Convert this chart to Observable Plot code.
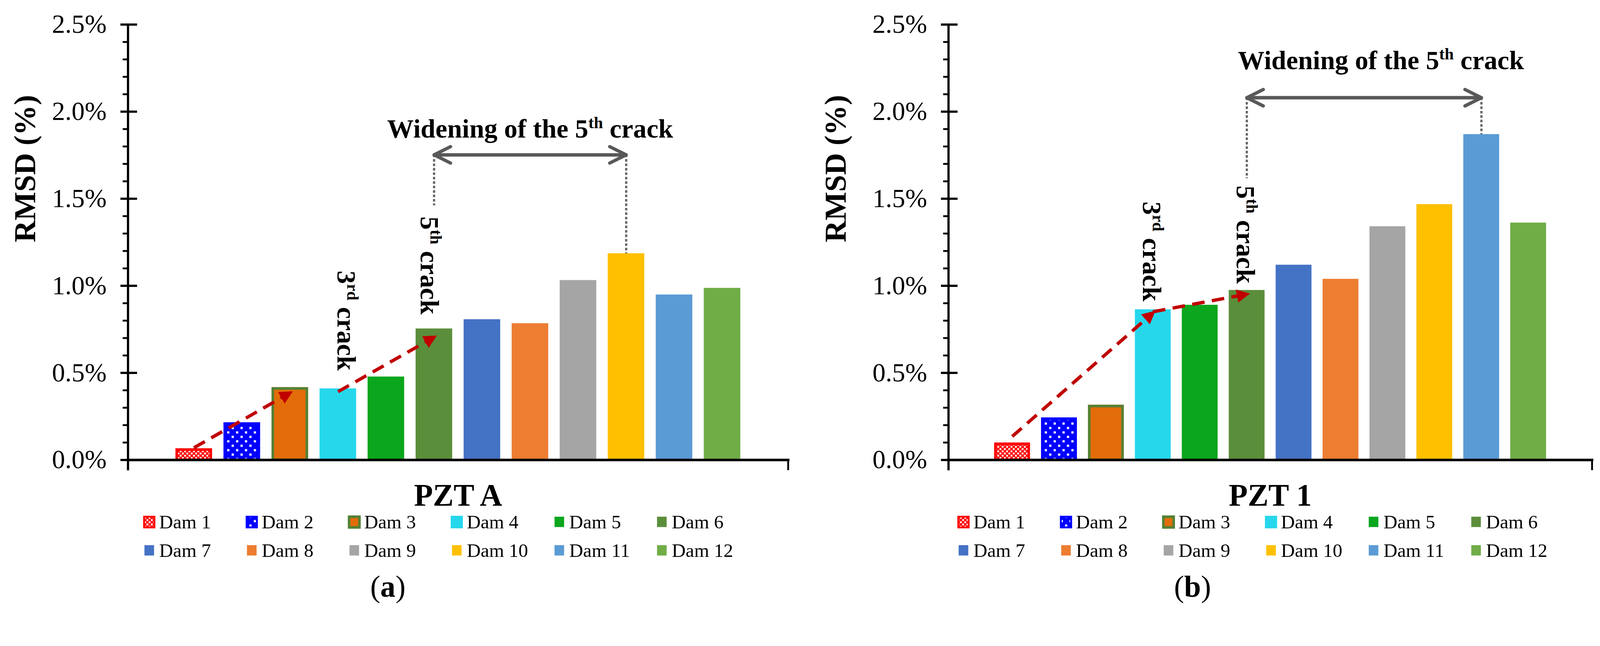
<!DOCTYPE html>
<html>
<head>
<meta charset="utf-8">
<script src="https://cdn.jsdelivr.net/npm/d3@7"></script>
<script src="https://cdn.jsdelivr.net/npm/@observablehq/plot@0.6"></script>
<style>
html, body { margin: 0; padding: 0; background: #fff; overflow: hidden; }
#page { position: relative; width: 4331px; height: 1653px; overflow: hidden; background: #fff; transform-origin: 0 0; }
#page > svg { position: absolute; top: 0; }
</style>
</head>
<body>
<div id="page"></div>
<script>
// ---------- data ----------
const dams = ["Dam 1","Dam 2","Dam 3","Dam 4","Dam 5","Dam 6","Dam 7","Dam 8","Dam 9","Dam 10","Dam 11","Dam 12"];
const rmsdPztA = [0.066, 0.215, 0.417, 0.410, 0.478, 0.754, 0.807, 0.784, 1.032, 1.186, 0.949, 0.987];
const rmsdPzt1 = [0.099, 0.243, 0.316, 0.864, 0.890, 0.975, 1.120, 1.039, 1.341, 1.468, 1.870, 1.362];
const damFills = ["url(#pat-dam1)", "url(#pat-dam2)", "#E36C0A", "#26D7EC", "#0BA61D", "#5B8E3A",
                  "#4472C4", "#ED7D31", "#A5A5A5", "#FFC000", "#5B9BD5", "#70AD47"];
const damBorders = ["#FF0000", "#0000FF", "#548235", null, null, null, null, null, null, null, null, null];
const yMajorTicks = [0, 0.5, 1.0, 1.5, 2.0, 2.5];
const yMinorTicks = [0.1,0.2,0.3,0.4,0.6,0.7,0.8,0.9,1.1,1.2,1.3,1.4,1.6,1.7,1.8,1.9,2.1,2.2,2.3,2.4];

// annotations (data coordinates: dam category, RMSD value in %)
const crackArrowsA = [
  {x1: "Dam 1", y1: 0.07, x2: "Dam 3", y2: 0.385},
  {x1: "Dam 4", y1: 0.392, x2: "Dam 6", y2: 0.705}
];
const crackArrows1 = [
  {x1: "Dam 1", y1: 0.135, x2: "Dam 4", y2: 0.845},
  {x1: "Dam 4", y1: 0.851, x2: "Dam 6", y2: 0.952}
];
const widenArrowA = [{from: "Dam 6", to: "Dam 10", y: 1.752}];
const widenArrow1 = [{from: "Dam 6", to: "Dam 11", y: 2.080}];
const dropLinesA = [{dam: "Dam 6", y1: 1.752, y2: 1.461}, {dam: "Dam 10", y1: 1.752, y2: 1.186}];
const dropLines1 = [{dam: "Dam 6", y1: 2.080, y2: 1.617}, {dam: "Dam 11", y1: 2.080, y2: 1.870}];
const widenLabelA = [{dam: "Dam 8", v: 1.851, text: "Widening of the 5th crack"}];
const widenLabel1 = [{dam: "Dam 9", v: 2.244, text: "Widening of the 5th crack"}];
const crack3A = [{dam: "Dam 4", v: 0.80, text: "3rd crack"}];
const crack5A = [{dam: "Dam 6", v: 1.117, text: "5th crack"}];
const crack31 = [{dam: "Dam 4", v: 1.197, text: "3rd crack"}];
const crack51 = [{dam: "Dam 6", v: 1.294, text: "5th crack"}];

const FONT = '"Liberation Serif", "Times New Roman", Times, serif';
const NS = "http://www.w3.org/2000/svg";
const page = document.getElementById("page");

// fit the 4331x1653 design into the actual viewport
function fit() {
  const s = Math.min(window.innerWidth / 4331, window.innerHeight / 1653);
  page.style.transform = s > 0 && Math.abs(s - 1) > 0.002 ? `scale(${s})` : "none";
}
fit();
window.addEventListener("resize", fit);

// ---------- patterns & overlay (legend, captions) ----------
const ov = d3.select(page).append("svg")
  .attr("width", 4331).attr("height", 1653)
  .style("left", "0px").style("font-family", FONT);
const defs = ov.append("defs");
const p1 = defs.append("pattern").attr("id", "pat-dam1").attr("patternUnits", "userSpaceOnUse")
  .attr("width", 12).attr("height", 12);
p1.append("rect").attr("width", 12).attr("height", 12).attr("fill", "#FF0000");
p1.append("rect").attr("x", 0.5).attr("y", 0.5).attr("width", 5).attr("height", 5).attr("fill", "#FFFFFF");
p1.append("rect").attr("x", 6.5).attr("y", 6.5).attr("width", 5).attr("height", 5).attr("fill", "#FFFFFF");
const p2 = defs.append("pattern").attr("id", "pat-dam2").attr("patternUnits", "userSpaceOnUse")
  .attr("width", 24).attr("height", 24);
p2.append("rect").attr("width", 24).attr("height", 24).attr("fill", "#0000FF");
p2.append("rect").attr("x", 3).attr("y", 3).attr("width", 6).attr("height", 6).attr("fill", "#FFFFFF");
p2.append("rect").attr("x", 15).attr("y", 15).attr("width", 6).attr("height", 6).attr("fill", "#FFFFFF");

const legendBorder = ["#FF0000", "#0000FF", "#548235", "#26D7EC", null, null, null, null, null, null, null, null];
function legend(x0, pitch) {
  dams.forEach((d, i) => {
    const col = i % 6, row = Math.floor(i / 6);
    const x = x0 + col * pitch;
    const cy = 1412 + row * 77;
    const g = ov.append("g");
    if (legendBorder[i]) {
      g.append("rect").attr("x", x + 2).attr("y", cy - 14).attr("width", 28).attr("height", 29)
        .attr("fill", damFills[i]).attr("stroke", legendBorder[i]).attr("stroke-width", i === 2 ? 7 : 5);
    } else {
      g.append("rect").attr("x", x + 3).attr("y", cy - 14).attr("width", 26).attr("height", 28)
        .attr("fill", damFills[i]);
    }
    g.append("text").attr("x", x + 43).attr("y", 1430 + row * 77)
      .attr("font-size", 52).attr("fill", "#000").text(d);
  });
}
legend(388, 277.5);
legend(2592, 277.5);

function caption(cx, letter) {
  const t = ov.append("text").attr("x", cx).attr("y", 1615).attr("text-anchor", "middle")
    .attr("font-size", 82).attr("fill", "#000");
  t.append("tspan").text("(");
  t.append("tspan").attr("font-weight", "bold").text(letter);
  t.append("tspan").text(")");
}
caption(1050, "a");
caption(3228, "b");

// ---------- helpers ----------
function triangleMarker(color, context) {
  const doc = (context && context.document) || document;
  const m = doc.createElementNS(NS, "marker");
  m.setAttribute("viewBox", "-40 -22 52 44");
  m.setAttribute("markerWidth", 52);
  m.setAttribute("markerHeight", 44);
  m.setAttribute("markerUnits", "userSpaceOnUse");
  m.setAttribute("refX", 0);
  m.setAttribute("refY", 0);
  m.setAttribute("orient", "auto");
  m.setAttribute("overflow", "visible");
  const p = doc.createElementNS(NS, "path");
  p.setAttribute("d", "M9,0L-27,-18L-27,18Z");
  p.setAttribute("fill", color);
  p.setAttribute("stroke", "none");
  m.appendChild(p);
  return m;
}
function redLink(data) {
  const opts = {x1: "x1", y1: "y1", x2: "x2", y2: "y2", stroke: "#C00000", strokeWidth: 9, strokeDasharray: "34,20"};
  try { return Plot.link(data, {...opts, markerEnd: triangleMarker}); }
  catch (e) { return Plot.link(data, {...opts, markerEnd: "arrow"}); }
}
function superscripts(svg) {
  svg.querySelectorAll("text").forEach(t => {
    if (t.children.length) return;
    const s = t.textContent;
    const m = s.match(/^(.*?\d)(st|nd|rd|th)(.*)$/);
    if (!m) return;
    const fs = parseFloat(t.getAttribute("font-size") || t.parentNode.getAttribute("font-size") || 72);
    t.textContent = "";
    const a = document.createElementNS(NS, "tspan"); a.textContent = m[1];
    const b = document.createElementNS(NS, "tspan"); b.textContent = m[2];
    b.setAttribute("font-size", (fs * 0.62).toFixed(1));
    b.setAttribute("dy", (-fs * 0.36).toFixed(1));
    const c = document.createElementNS(NS, "tspan"); c.textContent = m[3];
    c.setAttribute("dy", (fs * 0.36).toFixed(1));
    t.append(a, b, c);
  });
}

// ---------- panels ----------
function panel(cfg) {
  const data = dams.map((d, i) => ({dam: d, value: cfg.values[i], fill: damFills[i], border: damBorders[i]}));
  const plotH = 1244 - 66;
  const svg = Plot.plot({
    width: cfg.width,
    height: 1653,
    marginLeft: cfg.ml,
    marginRight: cfg.mr,
    marginTop: 66,
    marginBottom: 1653 - 1244,
    style: {fontFamily: FONT, background: "transparent", color: "#000", overflow: "visible"},
    x: {type: "band", domain: dams, paddingInner: cfg.pi, paddingOuter: cfg.po, axis: null},
    y: {domain: [0, 2.5]},
    color: {type: "identity"},
    marks: [
      Plot.barY(data, {x: "dam", y: "value", fill: "fill"}),
      Plot.barY(data.filter(d => d.border), {x: "dam", y: "value", fill: "fill", stroke: "border",
        strokeWidth: 7, insetLeft: 3.5, insetRight: 3.5, insetTop: 3.5}),
      Plot.ruleX(cfg.drops, {x: "dam", y1: "y1", y2: "y2", stroke: "#676767", strokeWidth: 6, strokeDasharray: "7,5"}),
      Plot.arrow(cfg.widen, {x1: "from", x2: "to", y1: "y", y2: "y", stroke: "#595959", strokeWidth: 9, headAngle: 53, headLength: 8.3}),
      Plot.arrow(cfg.widen, {x1: "to", x2: "from", y1: "y", y2: "y", stroke: "#595959", strokeWidth: 9, headAngle: 53, headLength: 8.3}),
      redLink(cfg.arrows),
      Plot.text(cfg.widenLabel, {x: "dam", y: "v", text: "text", dx: cfg.widenDx, fontSize: 72, fontWeight: "bold", lineAnchor: "bottom", fill: "#000"}),
      Plot.text(cfg.crack3, {x: "dam", y: "v", text: "text", dx: cfg.c3dx, rotate: 90, fontSize: 72, fontWeight: "bold", fill: "#000"}),
      Plot.text(cfg.crack5, {x: "dam", y: "v", text: "text", dx: cfg.c5dx, rotate: 90, fontSize: 72, fontWeight: "bold", fill: "#000"}),
      Plot.axisY(yMinorTicks, {anchor: "left", tickSize: 14, strokeWidth: 5, fill: "none", label: null}),
      Plot.axisY(yMajorTicks, {anchor: "left", tickSize: 25, dx: 25, strokeWidth: 6, fill: "none", label: null}),
      Plot.axisY(yMajorTicks, {anchor: "left", tickSize: 20, tickPadding: 38, strokeWidth: 6, fontSize: 71,
        tickFormat: d => d.toFixed(1) + "%", label: null}),
      Plot.frame({anchor: "left", strokeWidth: 6, insetBottom: -25}),
      Plot.frame({anchor: "bottom", strokeWidth: 7}),
      Plot.frame({anchor: "right", strokeWidth: 5, insetTop: plotH, insetBottom: -25}),
      Plot.text(["RMSD (%)"], {frameAnchor: "left", text: d => d, rotate: -90, dx: cfg.ylabDx, fontSize: 82, fontWeight: "bold", fill: "#000"}),
      Plot.text([cfg.title], {frameAnchor: "bottom", text: d => d, dy: 124, lineAnchor: "bottom", fontSize: 84, fontWeight: "bold", fill: "#000"})
    ]
  });
  svg.style.left = cfg.left + "px";
  superscripts(svg);
  page.appendChild(svg);
}

panel({
  left: 0, width: 2165, ml: 346, mr: 32, pi: 0.235, po: 0.968,
  values: rmsdPztA, title: "PZT A", ylabDx: -278,
  arrows: crackArrowsA, widen: widenArrowA, drops: dropLinesA,
  widenLabel: widenLabelA, widenDx: 0,
  crack3: crack3A, c3dx: 22, crack5: crack5A, c5dx: -13
});
panel({
  left: 2165, width: 2166, ml: 402, mr: 22, pi: 0.24, po: 0.945,
  values: rmsdPzt1, title: "PZT 1", ylabDx: -305,
  arrows: crackArrows1, widen: widenArrow1, drops: dropLines1,
  widenLabel: widenLabel1, widenDx: -18,
  crack3: crack31, c3dx: -4, crack5: crack51, c5dx: -4
});
</script>
</body>
</html>
